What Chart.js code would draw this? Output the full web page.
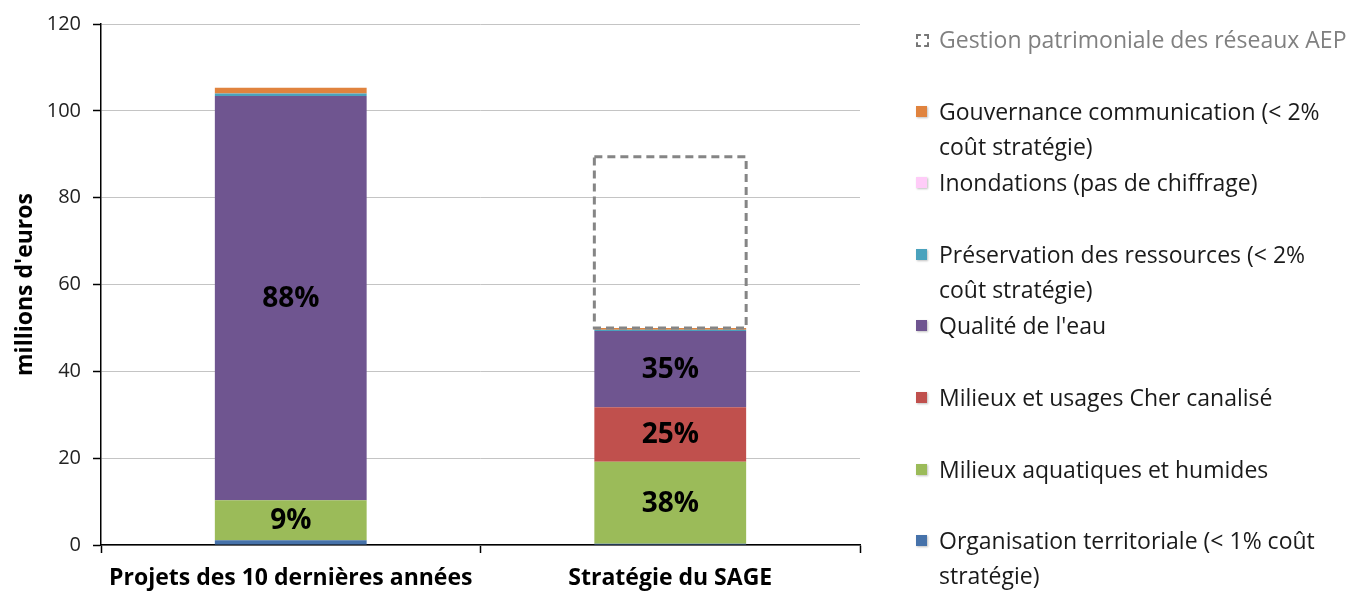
<!DOCTYPE html>
<html>
<head>
<meta charset="utf-8">
<script src="https://cdn.jsdelivr.net/npm/chart.js@4/dist/chart.umd.min.js"></script>
<style>
  body { margin: 0; background: #fff; }
  #wrap { position: relative; width: 1363px; height: 593px; }
  #legend { position: absolute; left: 0; top: 0; font-family: "Open Sans", sans-serif; font-size: 23px; color: #1a1a1a; }
  .item { position: absolute; left: 916px; width: 447px; line-height: 35px; white-space: nowrap; }
  .item .box { position: absolute; left: 0; top: 12px; width: 11px; height: 11px; box-shadow: 1px 1px 2px rgba(0,0,0,0.25); }
  .item .txt { margin-left: 23px; display: block; }
</style>
</head>
<body>
<div id="wrap">
  <canvas id="chart" width="1363" height="593"></canvas>
  <div id="legend"></div>
</div>
<script>
// catégories et valeurs (millions d'euros)
const categories = ['Projets des 10 dernières années', 'Stratégie du SAGE'];
const yTicks = [0, 20, 40, 60, 80, 100, 120];

const organisation = [1.1, 0.3];
const aquatiques = [9.2, 18.9];
const cherCanalise = [0, 12.5];
const qualiteEau = [93.1, 17.6];
const preservation = [0.6, 0.3];
const inondations = [0, 0];
const gouvernance = [1.3, 0.4];
const gestionAEP = [0, 39.4];

// étiquettes de pourcentage
const pctAquatiques = ['9%', '38%'];
const pctCher = ['', '25%'];
const pctQualite = ['88%', '35%'];

const FONT = '"Open Sans", sans-serif';

const series = [
  { label: 'Organisation territoriale (< 1% coût stratégie)', legend: ['Organisation territoriale (< 1% coût', 'stratégie)'], data: organisation, color: '#4672aa' },
  { label: 'Milieux aquatiques et humides', data: aquatiques, color: '#9bbb59', pct: pctAquatiques },
  { label: 'Milieux et usages Cher canalisé', data: cherCanalise, color: '#c0504d', pct: pctCher },
  { label: "Qualité de l'eau", data: qualiteEau, color: '#6f5590', pct: pctQualite },
  { label: 'Préservation des ressources (< 2% coût stratégie)', legend: ['Préservation des ressources (< 2%', 'coût stratégie)'], data: preservation, color: '#4aa2bd' },
  { label: 'Inondations (pas de chiffrage)', data: inondations, color: '#ffccf8' },
  { label: 'Gouvernance communication (< 2% coût stratégie)', legend: ['Gouvernance communication (< 2%', 'coût stratégie)'], data: gouvernance, color: '#e0833e' },
  { label: 'Gestion patrimoniale des réseaux AEP', data: gestionAEP, color: 'rgba(0,0,0,0)', dashed: true }
];

// Etiquettes au centre des segments + cadre pointillé
const pctPlugin = {
  id: 'pct',
  afterDatasetsDraw(chart) {
    const ctx = chart.ctx;
    ctx.save();
    series.forEach((s, i) => {
      const meta = chart.getDatasetMeta(i);
      meta.data.forEach((bar, j) => {
        if (s.dashed && s.data[j] > 0) {
          ctx.setLineDash([8, 5]);
          ctx.lineWidth = 3;
          ctx.strokeStyle = '#858585';
          ctx.strokeRect(bar.x - bar.width / 2, bar.y, bar.width, bar.base - bar.y);
          ctx.setLineDash([]);
        }
        if (s.pct && s.pct[j]) {
          ctx.font = 'bold 28px ' + FONT;
          ctx.fillStyle = '#000';
          ctx.textAlign = 'center';
          ctx.textBaseline = 'middle';
          ctx.fillText(s.pct[j], bar.x, (bar.y + bar.base) / 2 + 1);
        }
      });
    });
    ctx.restore();
  }
};

const ctx = document.getElementById('chart').getContext('2d');
new Chart(ctx, {
  type: 'bar',
  data: {
    labels: categories,
    datasets: series.map(s => ({
      label: s.label,
      data: s.data,
      backgroundColor: s.color,
      borderWidth: 0,
      categoryPercentage: 1,
      barPercentage: 0.4
    }))
  },
  options: {
    responsive: false,
    animation: false,
    layout: { padding: { top: 13, right: 503, left: 0, bottom: 0 } },
    plugins: { legend: { display: false }, tooltip: { enabled: false } },
    scales: {
      x: {
        stacked: true,
        grid: { drawOnChartArea: false, tickLength: 8, tickColor: '#000', tickWidth: 1.5 },
        border: { color: '#000', width: 1.5 },
        ticks: { color: '#000', padding: 12, font: { family: FONT, size: 23, weight: 'bold' } },
        afterFit(scale) { scale.height = 48; }
      },
      y: {
        stacked: true,
        min: 0,
        max: 120,
        afterBuildTicks(scale) { scale.ticks = yTicks.map(v => ({ value: v })); },
        grid: { color: '#c4c4c4', tickLength: 8, tickColor: '#000', tickWidth: 1.5 },
        border: { color: '#000', width: 1.5 },
        ticks: { color: '#222', padding: 12, font: { family: FONT, size: 20 } },
        title: { display: true, text: "millions d'euros", color: '#000', padding: { top: 12, bottom: 4 }, font: { family: FONT, size: 23, weight: 'bold' } },
        afterFit(scale) { scale.width = 101; }
      }
    }
  },
  plugins: [pctPlugin]
});

// Légende HTML (ordre inversé)
const legend = document.getElementById('legend');
series.slice().reverse().forEach((s, k) => {
  const div = document.createElement('div');
  div.className = 'item';
  div.style.top = (22 + k * 71.6) + 'px';
  const box = document.createElement('span');
  box.className = 'box';
  if (s.dashed) {
    box.style.border = '2px dashed #777';
    box.style.width = '9px';
    box.style.height = '9px';
    box.style.boxShadow = 'none';
    div.style.color = '#808080';
  } else {
    box.style.background = s.color;
  }
  const txt = document.createElement('span');
  txt.className = 'txt';
  txt.innerHTML = (s.legend || [s.label]).join('<br>');
  div.appendChild(box);
  div.appendChild(txt);
  legend.appendChild(div);
});
</script>
</body>
</html>
